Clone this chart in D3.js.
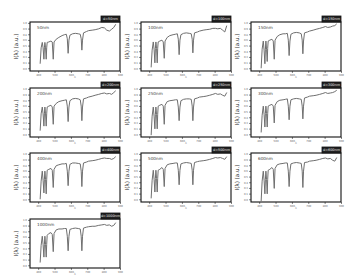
<!DOCTYPE html>
<html>
<head>
<meta charset="utf-8">
<script src="https://cdn.jsdelivr.net/npm/d3@7"></script>
<style>
  body { margin: 0; background: #fff; }
  svg text { font-family: "DejaVu Sans", sans-serif; }
</style>
</head>
<body>
<svg id="chart" width="357" height="279"></svg>
<script>
// wavelength grid shared by every panel (nm)
const WL = [412, 418, 425, 430, 435, 438, 441, 445, 449, 452, 455, 465, 478, 486, 492, 497,
            510, 526, 546, 560, 572, 578, 583, 588, 594, 610, 627, 645, 657, 663, 667, 671,
            677, 695, 708, 730, 748, 770, 789, 805, 819, 835, 849, 862, 874];

const PANEL_LABELS = ["50nm", "100nm", "150nm", "200nm", "250nm", "300nm", "400nm", "500nm", "600nm", "1000nm"];
const TAG_LABELS = ["d=50nm", "d=100nm", "d=150nm", "d=200nm", "d=250nm", "d=300nm", "d=400nm", "d=500nm", "d=600nm", "d=1000nm"];

const S50   = [0.10,0.45,0.57,0.45,0.20,0.45,0.57,0.45,0.20,0.45,0.57,0.58,0.60,0.58,0.20,0.58,0.64,0.68,0.72,0.74,0.75,0.65,0.33,0.62,0.73,0.76,0.77,0.76,0.75,0.65,0.40,0.62,0.78,0.81,0.83,0.84,0.85,0.87,0.90,0.89,0.84,0.82,0.86,0.90,0.97];
const S100  = [0.02,0.40,0.58,0.42,0.12,0.44,0.58,0.44,0.12,0.44,0.58,0.60,0.62,0.58,0.22,0.60,0.68,0.72,0.74,0.75,0.76,0.64,0.30,0.62,0.74,0.77,0.78,0.77,0.76,0.64,0.34,0.62,0.78,0.80,0.82,0.84,0.85,0.86,0.88,0.88,0.87,0.88,0.84,0.80,0.94];
const S150  = [0.00,0.42,0.60,0.40,0.10,0.42,0.60,0.42,0.15,0.44,0.60,0.62,0.64,0.60,0.20,0.62,0.70,0.74,0.76,0.76,0.77,0.62,0.28,0.60,0.75,0.78,0.79,0.78,0.76,0.62,0.32,0.60,0.78,0.80,0.82,0.84,0.86,0.88,0.90,0.92,0.90,0.91,0.93,0.94,0.98];
const S200  = [0.08,0.45,0.60,0.45,0.18,0.45,0.60,0.45,0.18,0.45,0.60,0.62,0.64,0.60,0.22,0.62,0.68,0.72,0.74,0.75,0.76,0.62,0.28,0.60,0.74,0.78,0.79,0.78,0.76,0.62,0.30,0.60,0.78,0.80,0.82,0.84,0.86,0.88,0.90,0.91,0.89,0.90,0.88,0.92,0.96];
const S250  = [-0.02,0.40,0.60,0.40,0.12,0.44,0.60,0.44,0.12,0.44,0.62,0.64,0.66,0.62,0.22,0.64,0.72,0.74,0.75,0.76,0.76,0.60,0.30,0.60,0.74,0.77,0.78,0.78,0.77,0.62,0.30,0.60,0.78,0.80,0.82,0.83,0.84,0.86,0.88,0.90,0.88,0.89,0.86,0.84,0.92];
const S300  = [0.04,0.42,0.62,0.44,0.16,0.46,0.62,0.46,0.16,0.46,0.62,0.64,0.66,0.62,0.25,0.64,0.72,0.75,0.76,0.77,0.78,0.62,0.32,0.62,0.76,0.78,0.79,0.78,0.77,0.62,0.34,0.62,0.80,0.82,0.84,0.85,0.86,0.88,0.90,0.92,0.90,0.91,0.92,0.94,0.97];
const S400  = [0.00,0.40,0.62,0.42,0.14,0.44,0.62,0.44,0.12,0.44,0.64,0.66,0.68,0.64,0.26,0.66,0.74,0.76,0.78,0.78,0.79,0.62,0.30,0.62,0.77,0.80,0.80,0.79,0.78,0.62,0.28,0.62,0.80,0.82,0.84,0.85,0.86,0.88,0.90,0.91,0.90,0.90,0.88,0.90,0.94];
const S500  = [0.02,0.42,0.64,0.44,0.16,0.46,0.64,0.46,0.16,0.46,0.64,0.66,0.70,0.66,0.28,0.68,0.76,0.78,0.79,0.80,0.80,0.64,0.32,0.64,0.78,0.80,0.81,0.80,0.79,0.64,0.32,0.64,0.81,0.83,0.84,0.85,0.86,0.88,0.90,0.92,0.91,0.92,0.90,0.88,0.94];
const S600  = [-0.04,0.40,0.62,0.42,0.12,0.44,0.62,0.44,0.12,0.44,0.64,0.66,0.70,0.66,0.24,0.68,0.76,0.78,0.79,0.80,0.80,0.62,0.28,0.62,0.78,0.80,0.81,0.80,0.79,0.62,0.26,0.62,0.81,0.82,0.84,0.85,0.86,0.88,0.90,0.91,0.89,0.90,0.86,0.84,0.92];
const S1000 = [0.06,0.44,0.64,0.46,0.18,0.46,0.64,0.46,0.18,0.46,0.66,0.70,0.72,0.68,0.30,0.70,0.78,0.80,0.80,0.81,0.81,0.64,0.32,0.64,0.79,0.81,0.82,0.81,0.80,0.64,0.32,0.64,0.82,0.84,0.85,0.86,0.86,0.88,0.89,0.90,0.88,0.89,0.86,0.88,0.94];

const SERIES = [S50, S100, S150, S200, S250, S300, S400, S500, S600, S1000];

const X_TICKS = [400, 500, 600, 700, 800, 900];
const Y_TICKS = [0, 0.125, 0.25, 0.375, 0.5, 0.625, 0.75, 0.875, 1.0];

const svg = d3.select("#chart");
const colX = [30, 141, 251];
const rowY = [22, 88, 153, 219];
const PW = 90, PH = 49;

const x = d3.scaleLinear().domain([350, 900]).range([0, PW]);
const y = d3.scaleLinear().domain([-0.06, 1.02]).range([PH, 0]);
const line = d3.line().x((d, i) => x(WL[i])).y(d => y(d));

SERIES.forEach((vals, k) => {
  const g = svg.append("g")
    .attr("transform", `translate(${colX[k % 3]}, ${rowY[Math.floor(k / 3)]})`);

  const xa = g.append("g").attr("transform", `translate(0, ${PH})`)
    .call(d3.axisBottom(x).tickValues(X_TICKS).tickSize(2).tickPadding(1).tickFormat(d3.format("d")));
  const ya = g.append("g")
    .call(d3.axisLeft(y).tickValues(Y_TICKS).tickSize(2).tickPadding(1).tickFormat(d3.format(".1f")));
  [xa, ya].forEach(a => {
    a.select(".domain").remove();
    a.selectAll("line").attr("stroke", "#333").attr("stroke-width", 0.6);
    a.selectAll("text").attr("font-size", 2.6).attr("fill", "#666");
  });

  g.append("path")
    .datum(vals)
    .attr("d", line)
    .attr("fill", "none")
    .attr("stroke", "#6f6f6f")
    .attr("stroke-width", 1);

  g.append("rect")
    .attr("width", PW).attr("height", PH)
    .attr("fill", "none")
    .attr("stroke", "#111")
    .attr("stroke-width", 1.1);

  g.append("text")
    .attr("x", 7).attr("y", 7)
    .attr("font-size", 4.2)
    .attr("fill", "#444")
    .text(PANEL_LABELS[k]);

  // tag box sitting on the top-right corner
  g.append("rect")
    .attr("x", PW - 19).attr("y", -6)
    .attr("width", 19).attr("height", 6)
    .attr("fill", "#222")
    .attr("stroke", "#111")
    .attr("stroke-width", 0.8);
  g.append("text")
    .attr("x", PW - 9.5).attr("y", -1.8)
    .attr("text-anchor", "middle")
    .attr("font-size", 3.4)
    .attr("fill", "#eee")
    .text(TAG_LABELS[k]);

  g.append("text")
    .attr("x", PW / 2).attr("y", PH + 7)
    .attr("text-anchor", "middle")
    .attr("font-size", 3)
    .attr("fill", "#777")
    .text("λ");

  g.append("text")
    .attr("transform", `translate(-12, ${PH / 2}) rotate(-90)`)
    .attr("text-anchor", "middle")
    .attr("font-size", 5.6)
    .attr("fill", "#333")
    .text("I(λ) (a.u.)");
});
</script>
</body>
</html>
